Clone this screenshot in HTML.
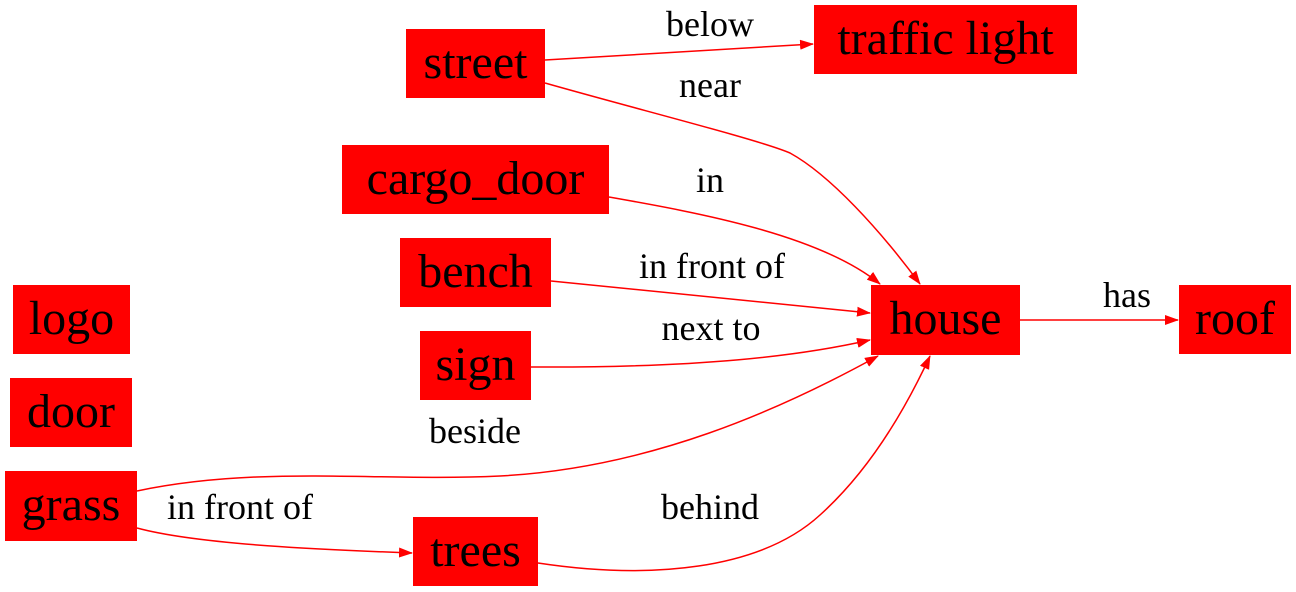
<!DOCTYPE html>
<html><head><meta charset="utf-8"><style>
html,body{margin:0;padding:0;background:#fff;width:1296px;height:592px;overflow:hidden}
svg text{font-family:"Liberation Serif","Noto Serif CJK SC","DejaVu Serif",serif;fill:#000}
.n{font-size:48px}
.l{font-size:36px}
.e{fill:none;stroke:#f00;stroke-width:1.5}
</style></head><body>
<svg width="1296" height="592" viewBox="0 0 1296 592">
<defs><marker id="ah" markerWidth="14" markerHeight="10" refX="13" refY="5" orient="auto" markerUnits="userSpaceOnUse"><path d="M0,0L14,5L0,10z" fill="#f00"/></marker></defs>
<g>
<path class="e" marker-end="url(#ah)" d="M545,60 L813,44"/>
<path class="e" marker-end="url(#ah)" d="M545,83 C640,110 760,140 790,153 C830,175 880,230 920,284"/>
<path class="e" marker-end="url(#ah)" d="M609,197 C700,213 820,235 880,284"/>
<path class="e" marker-end="url(#ah)" d="M551,281 L870,313"/>
<path class="e" marker-end="url(#ah)" d="M531,367 C700,368 800,356 870,340"/>
<path class="e" marker-end="url(#ah)" d="M137,491 C260,465 380,482 500,476 C650,468 780,410 878,356"/>
<path class="e" marker-end="url(#ah)" d="M137,528 C200,545 330,550 412,553"/>
<path class="e" marker-end="url(#ah)" d="M538,563 C650,580 760,570 820,515 C870,470 905,410 930,356"/>
<path class="e" marker-end="url(#ah)" d="M1020,320 L1178,320"/>
</g>
<g>
<text class="l" x="710" y="36" text-anchor="middle">below</text>
<text class="l" x="710" y="97" text-anchor="middle">near</text>
<text class="l" x="710" y="192" text-anchor="middle">in</text>
<text class="l" x="712" y="278" text-anchor="middle">in front of</text>
<text class="l" x="711" y="340" text-anchor="middle">next to</text>
<text class="l" x="475" y="443" text-anchor="middle">beside</text>
<text class="l" x="240" y="519" text-anchor="middle">in front of</text>
<text class="l" x="710" y="519" text-anchor="middle">behind</text>
<text class="l" x="1127" y="307" text-anchor="middle">has</text>
</g>
<g>
<g><rect x="406" y="29" width="139" height="69" fill="#f00"/><text class="n" x="475.5" y="78" text-anchor="middle">street</text></g>
<g><rect x="814" y="5" width="263" height="69" fill="#f00"/><text class="n" x="945.5" y="54" text-anchor="middle">traffic light</text></g>
<g><rect x="342" y="145" width="267" height="69" fill="#f00"/><text class="n" x="475.5" y="194" text-anchor="middle">cargo_door</text></g>
<g><rect x="400" y="238" width="151" height="69" fill="#f00"/><text class="n" x="475.5" y="287" text-anchor="middle">bench</text></g>
<g><rect x="13" y="285" width="117" height="69" fill="#f00"/><text class="n" x="71.5" y="334" text-anchor="middle">logo</text></g>
<g><rect x="871" y="285" width="149" height="70" fill="#f00"/><text class="n" x="945.5" y="334" text-anchor="middle">house</text></g>
<g><rect x="1179" y="285" width="112" height="69" fill="#f00"/><text class="n" x="1235" y="334" text-anchor="middle">roof</text></g>
<g><rect x="420" y="331" width="111" height="69" fill="#f00"/><text class="n" x="475.5" y="380" text-anchor="middle">sign</text></g>
<g><rect x="10" y="378" width="122" height="69" fill="#f00"/><text class="n" x="71" y="427" text-anchor="middle">door</text></g>
<g><rect x="5" y="471" width="132" height="70" fill="#f00"/><text class="n" x="71" y="520" text-anchor="middle">grass</text></g>
<g><rect x="413" y="517" width="125" height="69" fill="#f00"/><text class="n" x="475.5" y="566" text-anchor="middle">trees</text></g>
</g>
</svg>
</body></html>
